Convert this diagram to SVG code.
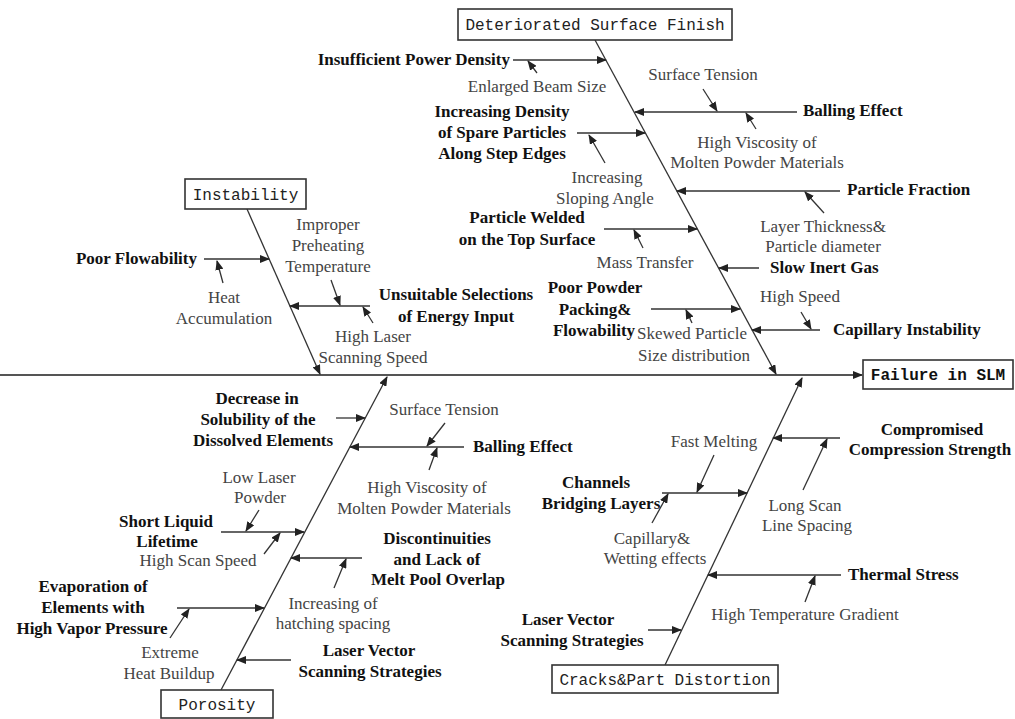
<svg xmlns="http://www.w3.org/2000/svg" width="1015" height="719" viewBox="0 0 1015 719">
<style>
.r{font-family:"Liberation Serif","Times New Roman",serif;font-size:17px;fill:#444;text-anchor:middle}
.b{font-family:"Liberation Serif","Times New Roman",serif;font-size:17px;font-weight:bold;fill:#111;text-anchor:middle}
.s{text-anchor:start}.e{text-anchor:end}
.m{font-family:"Liberation Mono","Courier New",monospace;font-size:16px;fill:#222;text-anchor:middle}
.mb{font-weight:bold;fill:#111}
.box{fill:#fff;stroke:#333;stroke-width:1.6}
.ln{stroke:#333;stroke-width:1.3;fill:none;marker-end:url(#ah)}
.sp{stroke:#555;stroke-width:2;fill:none;marker-end:url(#ah)}
</style>
<defs>
<marker id="ah" markerUnits="userSpaceOnUse" markerWidth="10" markerHeight="8" refX="9" refY="4" orient="auto">
<path d="M0,0 L10,4 L0,8 Z" fill="#222"/>
</marker>
</defs>
<rect width="1015" height="719" fill="#fff"/>
<g id="connectors">
<line class="sp" x1="0" y1="375" x2="862" y2="375"/>
<line class="ln" x1="595" y1="40" x2="776" y2="374"/>
<line class="ln" x1="247" y1="209" x2="320" y2="374"/>
<line class="ln" x1="221" y1="690" x2="387" y2="377"/>
<line class="ln" x1="665" y1="665" x2="802" y2="378"/>
<line class="ln" x1="513" y1="60" x2="606" y2="60"/>
<line class="ln" x1="537" y1="73" x2="528" y2="61"/>
<line class="ln" x1="577" y1="133" x2="645" y2="133"/>
<line class="ln" x1="605" y1="163" x2="589" y2="135"/>
<line class="ln" x1="797" y1="112" x2="635" y2="112"/>
<line class="ln" x1="703" y1="89" x2="717" y2="111"/>
<line class="ln" x1="756" y1="129" x2="746" y2="113"/>
<line class="ln" x1="840" y1="191" x2="677" y2="191"/>
<line class="ln" x1="824" y1="213" x2="805" y2="192"/>
<line class="ln" x1="604" y1="229" x2="697" y2="229"/>
<line class="ln" x1="643" y1="248" x2="634" y2="230"/>
<line class="ln" x1="759" y1="268" x2="719" y2="268"/>
<line class="ln" x1="651" y1="309" x2="740" y2="309"/>
<line class="ln" x1="692" y1="323" x2="686" y2="310"/>
<line class="ln" x1="820" y1="330" x2="752" y2="330"/>
<line class="ln" x1="801" y1="312" x2="811" y2="329"/>
<line class="ln" x1="204" y1="259" x2="269" y2="259"/>
<line class="ln" x1="223" y1="283" x2="217" y2="261"/>
<line class="ln" x1="370" y1="306" x2="290" y2="306"/>
<line class="ln" x1="331" y1="280" x2="340" y2="305"/>
<line class="ln" x1="373" y1="323" x2="363" y2="307"/>
<line class="ln" x1="336" y1="418" x2="365" y2="418"/>
<line class="ln" x1="464" y1="447" x2="350" y2="447"/>
<line class="ln" x1="445" y1="423" x2="427" y2="446"/>
<line class="ln" x1="429" y1="470" x2="437" y2="448"/>
<line class="ln" x1="221" y1="532" x2="304" y2="532"/>
<line class="ln" x1="259" y1="510" x2="246" y2="531"/>
<line class="ln" x1="264" y1="554" x2="280" y2="533"/>
<line class="ln" x1="362" y1="558" x2="291" y2="558"/>
<line class="ln" x1="334" y1="588" x2="346" y2="559"/>
<line class="ln" x1="177" y1="608" x2="264" y2="608"/>
<line class="ln" x1="170" y1="638" x2="189" y2="609"/>
<line class="ln" x1="291" y1="660" x2="237" y2="660"/>
<line class="ln" x1="840" y1="438" x2="773" y2="438"/>
<line class="ln" x1="803" y1="490" x2="827" y2="439"/>
<line class="ln" x1="662" y1="493" x2="747" y2="493"/>
<line class="ln" x1="714" y1="455" x2="697" y2="492"/>
<line class="ln" x1="652" y1="523" x2="668" y2="494"/>
<line class="ln" x1="841" y1="575" x2="708" y2="575"/>
<line class="ln" x1="805" y1="602" x2="815" y2="576"/>
<line class="ln" x1="648" y1="630" x2="681" y2="630"/>
</g>
<g id="effect"><rect class="box" x="863" y="360" width="150" height="29"/><text class="m mb" x="938" y="380">Failure in SLM</text></g>
<g id="cat-surface"><rect class="box" x="458" y="9" width="274" height="31"/><text class="m" x="595" y="30">Deteriorated Surface Finish</text></g>
<g id="cat-instability"><rect class="box" x="185" y="179" width="121" height="30"/><text class="m" x="245.5" y="200">Instability</text></g>
<g id="cat-porosity"><rect class="box" x="161" y="690" width="112" height="28"/><text class="m" x="217" y="710">Porosity</text></g>
<g id="cat-cracks"><rect class="box" x="552" y="665" width="226" height="28"/><text class="m" x="665" y="685">Cracks&amp;Part Distortion</text></g>

<g id="sf-insufficient"><text class="b e" x="510" y="65">Insufficient Power Density</text></g>
<g id="sf-beam"><text class="r" x="537" y="92">Enlarged Beam Size</text></g>
<g id="sf-density"><text class="b" x="502" y="117">Increasing Density</text><text class="b" x="502" y="138">of Spare Particles</text><text class="b" x="502" y="159">Along Step Edges</text></g>
<g id="sf-sloping"><text class="r" x="607" y="183">Increasing</text><text class="r" x="605" y="204">Sloping Angle</text></g>
<g id="sf-tension"><text class="r" x="703" y="80">Surface Tension</text></g>
<g id="sf-balling"><text class="b s" x="803" y="116">Balling Effect</text></g>
<g id="sf-viscosity"><text class="r" x="757" y="148">High Viscosity of</text><text class="r" x="757" y="168">Molten Powder Materials</text></g>
<g id="sf-fraction"><text class="b s" x="847" y="195">Particle Fraction</text></g>
<g id="sf-layer"><text class="r" x="823" y="232">Layer Thickness&amp;</text><text class="r" x="823" y="252">Particle diameter</text></g>
<g id="sf-welded"><text class="b" x="527" y="223">Particle Welded</text><text class="b" x="527" y="245">on the Top Surface</text></g>
<g id="sf-mass"><text class="r" x="645" y="268">Mass Transfer</text></g>
<g id="sf-gas"><text class="b s" x="770" y="273">Slow Inert Gas</text></g>
<g id="sf-packing"><text class="b" x="595" y="293">Poor Powder</text><text class="b" x="595" y="315">Packing&amp;</text><text class="b" x="594" y="336">Flowability</text></g>
<g id="sf-skewed"><text class="r" x="692" y="339">Skewed Particle</text><text class="r" x="694" y="361">Size distribution</text></g>
<g id="sf-speed"><text class="r" x="800" y="302">High Speed</text></g>
<g id="sf-capillary"><text class="b s" x="833" y="335">Capillary Instability</text></g>

<g id="in-flow"><text class="b e" x="197" y="264">Poor Flowability</text></g>
<g id="in-heat"><text class="r" x="224" y="303">Heat</text><text class="r" x="224" y="324">Accumulation</text></g>
<g id="in-preheat"><text class="r" x="328" y="230">Improper</text><text class="r" x="328" y="251">Preheating</text><text class="r" x="328" y="272">Temperature</text></g>
<g id="in-energy"><text class="b" x="456" y="300">Unsuitable Selections</text><text class="b" x="456" y="322">of Energy Input</text></g>
<g id="in-laser"><text class="r" x="373" y="342">High Laser</text><text class="r" x="373" y="363">Scanning Speed</text></g>

<g id="po-solubility"><text class="b" x="257" y="404">Decrease in</text><text class="b" x="258" y="425">Solubility of the</text><text class="b" x="263" y="446">Dissolved Elements</text></g>
<g id="po-tension"><text class="r" x="444" y="415">Surface Tension</text></g>
<g id="po-balling"><text class="b s" x="473" y="452">Balling Effect</text></g>
<g id="po-viscosity"><text class="r" x="427" y="493">High Viscosity of</text><text class="r" x="424" y="514">Molten Powder Materials</text></g>
<g id="po-lowlaser"><text class="r" x="259" y="483">Low Laser</text><text class="r" x="260" y="503">Powder</text></g>
<g id="po-lifetime"><text class="b" x="166" y="527">Short Liquid</text><text class="b" x="167" y="547">Lifetime</text></g>
<g id="po-scan"><text class="r" x="198" y="566">High Scan Speed</text></g>
<g id="po-overlap"><text class="b" x="437" y="544">Discontinuities</text><text class="b" x="437" y="565">and Lack of</text><text class="b" x="438" y="585">Melt Pool Overlap</text></g>
<g id="po-hatch"><text class="r" x="333" y="609">Increasing of</text><text class="r" x="333" y="629">hatching spacing</text></g>
<g id="po-evap"><text class="b" x="93" y="592">Evaporation of</text><text class="b" x="93" y="613">Elements with</text><text class="b" x="92" y="634">High Vapor Pressure</text></g>
<g id="po-buildup"><text class="r" x="170" y="658">Extreme</text><text class="r" x="169" y="679">Heat Buildup</text></g>
<g id="po-vector"><text class="b" x="369" y="656">Laser Vector</text><text class="b" x="370" y="677">Scanning Strategies</text></g>

<g id="cr-compression"><text class="b" x="932" y="435">Compromised</text><text class="b" x="930" y="455">Compression Strength</text></g>
<g id="cr-longscan"><text class="r" x="805" y="511">Long Scan</text><text class="r" x="807" y="531">Line Spacing</text></g>
<g id="cr-fast"><text class="r" x="714" y="447">Fast Melting</text></g>
<g id="cr-channels"><text class="b" x="596" y="488">Channels</text><text class="b" x="601" y="509">Bridging Layers</text></g>
<g id="cr-wetting"><text class="r" x="652" y="544">Capillary&amp;</text><text class="r" x="655" y="564">Wetting effects</text></g>
<g id="cr-thermal"><text class="b s" x="848" y="580">Thermal Stress</text></g>
<g id="cr-gradient"><text class="r" x="805" y="620">High Temperature Gradient</text></g>
<g id="cr-vector"><text class="b" x="568" y="625">Laser Vector</text><text class="b" x="572" y="646">Scanning Strategies</text></g>
</svg>
